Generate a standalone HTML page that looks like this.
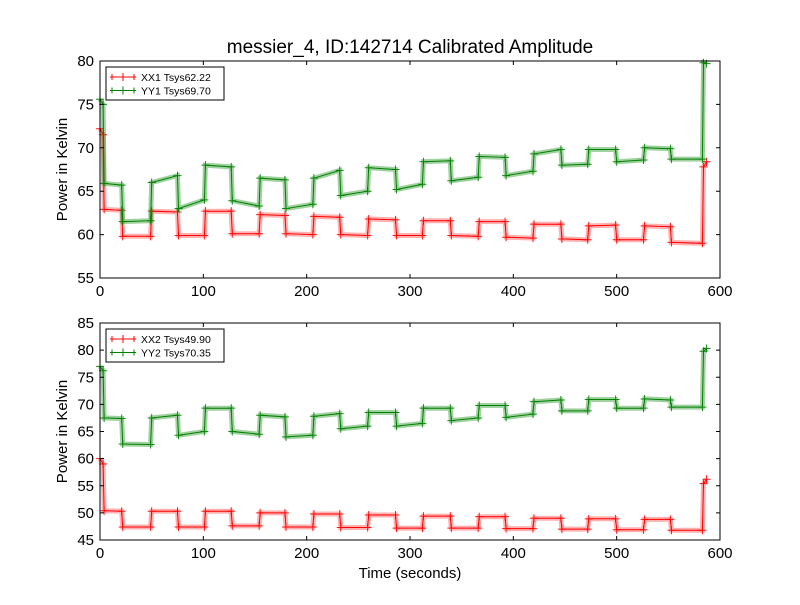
<!DOCTYPE html>
<html><head><meta charset="utf-8">
<style>
body{margin:0;background:#fff;}
svg text{font-family:"Liberation Sans","DejaVu Sans",sans-serif;}
</style></head>
<body>
<svg id="chart" width="800" height="600" xmlns="http://www.w3.org/2000/svg">
<rect width="800" height="600" fill="#fff"/>
<text x="410" y="53" font-size="19" text-anchor="middle">messier_4, ID:142714 Calibrated Amplitude</text>
<g id="p1"></g>
<g id="p2"></g>
<text x="410" y="578" font-size="15" text-anchor="middle">Time (seconds)</text>
</svg>
<script>
const times = [0,3, 4,21, 22,49, 50,75, 76,101, 102,127, 128,154, 155,179, 180,206, 207,232, 233,259, 260,286, 287,312, 313,339, 340,366, 367,392, 393,419, 420,446, 447,472, 473,499, 500,526, 527,552, 553,583, 584,587];
const xx1 = [72.2,71.5, 62.9,62.8, 59.8,59.8, 62.7,62.6, 59.9,59.9, 62.7,62.7, 60.1,60.1, 62.3,62.2, 60.1,60.0, 62.1,62.0, 60.0,59.9, 61.8,61.7, 59.9,59.9, 61.6,61.6, 59.9,59.8, 61.5,61.5, 59.7,59.6, 61.2,61.2, 59.5,59.4, 61.0,61.1, 59.4,59.4, 61.0,60.9, 59.1,59.0, 67.8,68.4];
const yy1 = [75.6,75.0, 65.9,65.7, 61.5,61.6, 66.0,66.8, 63.0,64.0, 68.0,67.8, 63.9,63.3, 66.5,66.3, 63.0,63.5, 66.5,67.4, 64.5,65.0, 67.7,67.5, 65.2,65.8, 68.4,68.5, 66.2,66.6, 69.0,68.9, 66.8,67.3, 69.3,69.8, 68.0,68.1, 69.8,69.8, 68.4,68.6, 70.0,69.9, 68.7,68.7, 79.8,79.7];
const xx2 = [60.0,59.0, 50.4,50.3, 47.4,47.4, 50.3,50.3, 47.4,47.4, 50.3,50.3, 47.6,47.6, 50.0,50.0, 47.4,47.4, 49.8,49.8, 47.3,47.3, 49.6,49.6, 47.2,47.2, 49.4,49.4, 47.2,47.2, 49.3,49.3, 47.1,47.1, 49.0,49.0, 47.0,47.0, 48.9,48.9, 46.9,46.9, 48.8,48.8, 46.8,46.8, 55.4,56.2];
const yy2 = [77.0,76.2, 67.5,67.4, 62.7,62.6, 67.5,68.0, 64.3,65.0, 69.3,69.3, 65.0,64.5, 68.0,67.7, 64.0,64.3, 67.8,68.3, 65.5,66.0, 68.5,68.5, 66.0,66.5, 69.3,69.3, 67.0,67.5, 69.8,69.8, 67.6,68.2, 70.5,70.8, 68.8,68.8, 70.9,70.9, 69.3,69.3, 71.0,70.8, 69.5,69.5, 79.8,80.3];
const xTicks = [0,100,200,300,400,500,600];
const yTicks1 = [55,60,65,70,75,80];
const yTicks2 = [45,50,55,60,65,70,75,80,85];
const legend1 = ["XX1 Tsys62.22","YY1 Tsys69.70"];
const legend2 = ["XX2 Tsys49.90","YY2 Tsys70.35"];

const NS="http://www.w3.org/2000/svg";
function mk(tag, attrs, parent){const e=document.createElementNS(NS,tag);for(const k in attrs)e.setAttribute(k,attrs[k]);parent.appendChild(e);return e;}

function panel(g, top, bottom, ymin, ymax, yTicks, seriesList, legendLabels, prefix){
  const L=100,R=720;
  const sx=t=>L+(t-0)/600*(R-L);
  const sy=v=>bottom-(v-ymin)/(ymax-ymin)*(bottom-top);
  const colors=["#ff0000","#008000"], bands=["rgba(255,60,60,0.4)","rgba(20,140,20,0.4)"];
  seriesList.forEach((vals,si)=>{
    const d=vals.map((v,i)=>(i?"L":"M")+sx(times[i]).toFixed(1)+","+sy(v).toFixed(1)).join("");
    const band=mk("path",{d:d,fill:"none",stroke:bands[si],"stroke-width":"5"},g);
    
    
    const line=mk("path",{d:d,fill:"none",stroke:colors[si],"stroke-width":"1"},g);
    
    
    vals.forEach((v,i)=>{
      const x=sx(times[i]),y=sy(v);
      const m=mk("path",{d:`M${x-4},${y}H${x+4}M${x},${y-4}V${y+4}`,stroke:colors[si],"stroke-width":"1",opacity:"0.9"},g);
      
      
    });
  });
  const frame=mk("rect",{x:L,y:top,width:R-L,height:bottom-top,fill:"none",stroke:"#000","stroke-width":"1"},g);
  
  
  xTicks.forEach(t=>{
    const x=sx(t);
    const tk=mk("path",{d:`M${x},${bottom}V${bottom-4}M${x},${top}V${top+4}`,stroke:"#000"},g);
    
    
    const tl=mk("text",{x:x,y:bottom+18,"font-size":"15","text-anchor":"middle"},g);
    tl.textContent=t;
    
    
  });
  yTicks.forEach(v=>{
    const y=sy(v);
    const tk=mk("path",{d:`M${L},${y}H${L+4}M${R},${y}H${R-4}`,stroke:"#000"},g);
    
    
    const tl=mk("text",{x:L-6,y:y+5,"font-size":"15","text-anchor":"end"},g);
    tl.textContent=v;
    
    
  });
  const yt=mk("text",{x:0,y:0,"font-size":"15","text-anchor":"middle",transform:`translate(67,${(top+bottom)/2}) rotate(-90)`},g);
  yt.textContent="Power in Kelvin";
  
  
  const lg=mk("g",{},g);
  
  
  mk("rect",{x:106,y:top+6,width:118,height:33,fill:"#fff",stroke:"#000","stroke-width":"1"},lg);
  legendLabels.forEach((lab,i)=>{
    const y=top+16+i*13.5;
    const e=mk("g",{},lg);
    
    
    mk("path",{d:`M110,${y}H136M123,${y-4}V${y+4}M112,${y-3}V${y+3}M134,${y-3}V${y+3}`,stroke:colors[i]},e);
    const t=mk("text",{x:141,y:y+4,"font-size":"10.5"},e);
    t.textContent=lab;
  });
}
panel(document.getElementById("p1"),61,278,55,80,yTicks1,[xx1,yy1],legend1,"top");
panel(document.getElementById("p2"),323,540,45,85,yTicks2,[xx2,yy2],legend2,"bottom");
</script>
</body></html>
